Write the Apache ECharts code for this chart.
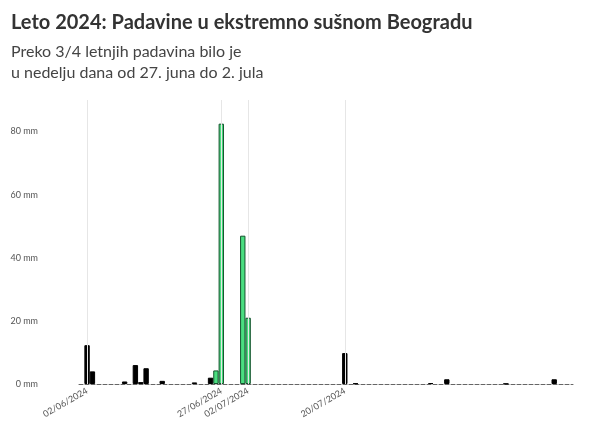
<!DOCTYPE html>
<html>
<head>
<meta charset="utf-8">
<script src="https://cdn.jsdelivr.net/npm/echarts@6/dist/echarts.min.js"></script>
<style>body{margin:0;background:#fff}</style>
</head>
<body>
<div id="main" style="width:592px;height:429px;"></div>
<script>
// dnevne padavine, Beograd, leto 2024 (mm)
var rain = {
  '02/06': 12.3, '03/06': 4, '09/06': 0.8, '11/06': 6, '12/06': 0.6, '13/06': 5,
  '16/06': 1, '22/06': 0.5, '25/06': 2, '26/06': 4.3, '27/06': 82.5,
  '01/07': 47, '02/07': 21, '20/07': 9.8, '22/07': 0.2,
  '05/08': 0.3, '08/08': 1.5, '19/08': 0.1, '28/08': 1.5
};
var greenDays = ['26/06', '27/06', '01/07', '02/07'];
var markedDays = ['02/06/2024', '27/06/2024', '02/07/2024', '20/07/2024'];

var days = [];
var monthLen = [[6, 30], [7, 31], [8, 31]];
monthLen.forEach(function (m) {
  for (var d = 1; d <= m[1]; d++) {
    days.push((d < 10 ? '0' : '') + d + '/0' + m[0]);
  }
});
var cats = days.map(function (d) { return d + '/2024'; });
var values = days.map(function (d) {
  var v = rain[d] || 0;
  var green = greenDays.indexOf(d) >= 0;
  return {
    value: v,
    itemStyle: {
      color: green ? '#4ade80' : '#000',
      borderColor: green ? '#14532d' : '#000',
      borderWidth: v > 0 ? 1 : 0
    }
  };
});

var chart = echarts.init(document.getElementById('main'));
chart.setOption({
  animation: false,
  title: {
    text: 'Leto 2024: Padavine u ekstremno sušnom Beogradu',
    subtext: 'Preko 3/4 letnjih padavina bilo je\nu nedelju dana od 27. juna do 2. jula',
    left: 6, top: 8,
    textStyle: { fontFamily: 'Lato', fontSize: 20, fontWeight: 'bold', color: '#333' },
    subtextStyle: { fontFamily: 'Lato', fontSize: 16, color: '#444', lineHeight: 21 },
    itemGap: 8
  },
  grid: { left: 79, right: 19, top: 100, bottom: 45 },
  xAxis: {
    type: 'category',
    data: cats,
    axisLine: { lineStyle: { color: '#666', type: 'dashed', width: 1 } },
    axisTick: { show: false },
    axisLabel: {
      interval: function (i, v) { return markedDays.indexOf(v) >= 0; },
      rotate: 30, fontSize: 9, color: '#555', fontFamily: 'Lato', margin: 6
    },
    splitLine: { show: false }
  },
  yAxis: {
    type: 'value', min: 0, max: 90, interval: 20,
    splitLine: { show: false },
    axisLine: { show: false },
    axisLabel: {
      formatter: '{value} mm', fontSize: 9, color: '#555', fontFamily: 'Lato',
      showMaxLabel: false, margin: 41
    }
  },
  series: [{
    type: 'bar',
    data: values,
    barCategoryGap: '0%',
    markLine: {
      silent: true,
      symbol: 'none',
      label: { show: false },
      lineStyle: { color: '#e6e6e6', type: 'solid', width: 1 },
      data: markedDays.map(function (d) { return { xAxis: d }; })
    },
    z: 3
  }]
});
</script>
</body>
</html>
